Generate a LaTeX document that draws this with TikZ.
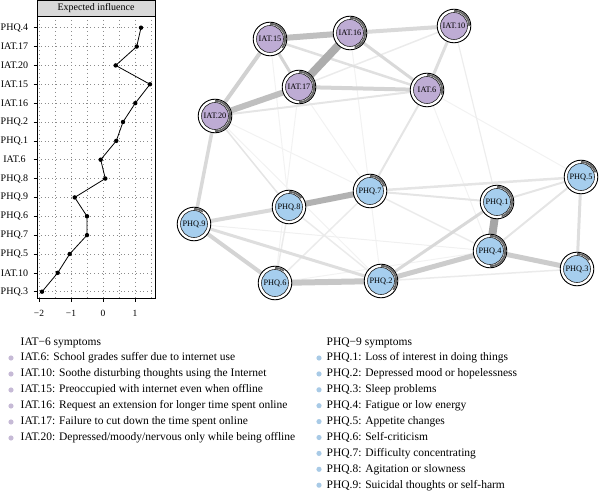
\documentclass[tikz,border=0pt]{standalone}
\usepackage{fontspec}
\setmainfont{Liberation Serif}
\usetikzlibrary{backgrounds,calc}
\definecolor{iatcol}{RGB}{190,172,212}
\definecolor{phqcol}{RGB}{166,206,238}
\definecolor{iatdot}{RGB}{198,186,214}
\definecolor{phqdot}{RGB}{168,202,230}
\begin{document}
\begin{tikzpicture}[x=1pt,y=-1pt,
  symnode/.style={circle, minimum size=27pt, inner sep=0pt, draw=black!85, line width=0.6pt, font=\fontsize{8.3}{9}\selectfont},
  iat/.style={symnode, fill=iatcol},
  phq/.style={symnode, fill=phqcol},
  eg/.style 2 args={line width=#1pt, draw=black!#2},
  axlab/.style={font=\fontsize{10}{11}\selectfont, inner sep=0pt},
  ticklab/.style={font=\fontsize{9.5}{10}\selectfont, inner sep=0pt},
  legtxt/.style={font=\fontsize{11.5}{13}\selectfont, anchor=west, inner sep=0pt},
  griddot/.style={black!45, line width=0.5pt, dash pattern=on 0.6pt off 3.2pt},
  datadot/.style={circle, fill=black, inner sep=0pt, minimum size=4.4pt}
]
\useasboundingbox (0,0) rectangle (600,492);

% ---------------- left panel ----------------
\fill[white] (37,16) rectangle (155,298);
\foreach \g in {39,55,71,87,103,119,135,151}
  \draw[griddot] (\g,16) -- (\g,298);
\foreach \k in {0,...,14}
  \draw[griddot] (37,27.7+\k*18.857) -- (155,27.7+\k*18.857);
\draw[line width=0.7pt] (37,16) rectangle (155,298);
\draw[line width=0.7pt, fill=black!15] (37,0.5) rectangle (155,16);
\node[font=\fontsize{10}{11}\selectfont, inner sep=0pt] (hdr) at (96,8.5) {Expected influence};
\foreach \lab [count=\k from 0] in {PHQ.4,IAT.17,IAT.20,IAT.15,IAT.16,PHQ.2,PHQ.1,IAT.6,PHQ.8,PHQ.9,PHQ.6,PHQ.7,PHQ.5,IAT.10,PHQ.3}{
  \node[axlab] (yl\k) at (14.5,27.7+\k*18.857) {\lab};
  \draw[line width=0.6pt] (33.5,27.7+\k*18.857) -- (37,27.7+\k*18.857);
}
\foreach \t/\x in {−2/39,−1/71,0/103,1/135}{
  \draw[line width=0.6pt] (\x,298) -- (\x,302);
  \node[ticklab] (xt\x) at (\x,313) {\t};
}
\foreach \v [count=\k from 0] in {141,136.7,115.7,150,135.3,123,116.3,100.7,105.3,74.7,87,87,69.7,57.7,42}
  \coordinate (d\k) at (\v,27.7+\k*18.857);
\draw[line width=0.8pt] (d0)--(d1)--(d2)--(d3)--(d4)--(d5)--(d6)--(d7)--(d8)--(d9)--(d10)--(d11)--(d12)--(d13)--(d14);
\foreach \k in {0,...,14} \node[datadot] (dd\k) at (d\k) {};

% ---------------- network nodes ----------------
\node[iat] (i15) at (270,39) {IAT.15};
\node[iat] (i16) at (350,33) {IAT.16};
\node[iat] (i10) at (454,26) {IAT.10};
\node[iat] (i17) at (299,87) {IAT.17};
\node[iat] (i6)  at (427,90) {IAT.6};
\node[iat] (i20) at (215,116) {IAT.20};
\node[phq] (p7) at (370,191) {PHQ.7};
\node[phq] (p8) at (289,207) {PHQ.8};
\node[phq] (p9) at (194,224) {PHQ.9};
\node[phq] (p1) at (497,202) {PHQ.1};
\node[phq] (p5) at (581,177) {PHQ.5};
\node[phq] (p4) at (490,251) {PHQ.4};
\node[phq] (p3) at (577,269) {PHQ.3};
\node[phq] (p6) at (275,283) {PHQ.6};
\node[phq] (p2) at (381,281) {PHQ.2};

\begin{scope}[on background layer]
% very faint edges
\draw[eg={1}{5}] (i15) -- (p8);
\draw[eg={1}{5}] (i17) -- (p7);
\draw[eg={1}{5}] (i20) -- (p7);
\draw[eg={1}{5}] (i6) -- (p4);
\draw[eg={1}{5}] (i6) -- (p5);
\draw[eg={1}{5}] (i16) -- (p2);
\draw[eg={1}{5}] (i17) -- (p6);
\draw[eg={1}{6}] (p9) -- (p4);
\draw[eg={1}{5}] (p6) -- (p4);
\draw[eg={1}{5}] (i20) -- (p2);
% IAT edges
\draw[eg={1.5}{8}] (i17) -- (i10);
\draw[eg={1.2}{7}] (i10) -- (p1);
\draw[eg={2}{10}] (i20) -- (i6);
\draw[eg={2}{10}] (i6) -- (p7);
\draw[eg={1.5}{10}] (i20) -- (p8);
\draw[eg={3}{13}] (i10) -- (i6);
\draw[eg={2.5}{12}] (i15) -- (i6);
\draw[eg={3}{15}] (i16) -- (i6);
\draw[eg={4}{17}] (i17) -- (i6);
\draw[eg={3}{17}] (i15) -- (i17);
\draw[eg={4}{15}] (i16) -- (i10);
\draw[eg={4}{18}] (i15) -- (i20);
\draw[eg={3.5}{15}] (i20) -- (p9);
\draw[eg={6}{25}] (i17) -- (i20);
\draw[eg={6}{25}] (i15) -- (i16);
\draw[eg={8}{32}] (i16) -- (i17);
% PHQ edges
\draw[eg={1.5}{8}] (p7) -- (p4);
\draw[eg={1.5}{8}] (p7) -- (p6);
\draw[eg={1.5}{8}] (p8) -- (p6);
\draw[eg={1.5}{8}] (p8) -- (p2);
\draw[eg={1.5}{8}] (p2) -- (p3);
\draw[eg={2}{10}] (p7) -- (p1);
\draw[eg={2.5}{10}] (p7) -- (p5);
\draw[eg={2}{10}] (p5) -- (p1);
\draw[eg={2}{10}] (p5) -- (p4);
\draw[eg={3}{13}] (p5) -- (p3);
\draw[eg={3}{15}] (p2) -- (p1);
\draw[eg={3}{13}] (p9) -- (p2);
\draw[eg={4}{17}] (p9) -- (p6);
\draw[eg={4}{15}] (p9) -- (p8);
\draw[eg={5}{20}] (p4) -- (p3);
\draw[eg={5}{20}] (p2) -- (p4);
\draw[eg={6}{22}] (p6) -- (p2);
\draw[eg={6}{30}] (p8) -- (p7);
\draw[eg={8}{35}] (p1) -- (p4);
% node rings with pies
\foreach \n/\f in {i15/0.35,i16/0.45,i10/0.25,i17/0.5,i6/0.3,i20/0.5,p7/0.2,p8/0.15,p9/0.1,p1/0.45,p5/0.2,p4/0.5,p3/0.15,p6/0.1,p2/0.35}{
  \draw[line width=0.9pt, fill=white] (\n.center) circle[radius=16.8pt];
  \draw[black!60, line width=1.8pt] ([shift={(90:15.2pt)}]\n.center) arc[start angle=90, delta angle=-360*\f, radius=15.2pt];
}
\end{scope}

% ---------------- legends ----------------
\node[legtxt] (ihdr) at (20.5,343) {IAT−6 symptoms};
\foreach \txt [count=\k from 0] in {IAT.6: School grades suffer due to internet use,IAT.10: Soothe disturbing thoughts using the Internet,IAT.15: Preoccupied with internet even when offline,IAT.16: Request an extension for longer time spent online,IAT.17: Failure to cut down the time spent online,IAT.20: Depressed/moody/nervous only while being offline}{
  \fill[iatdot] (11,358+\k*16) circle[radius=2.6pt];
  \node[legtxt] (il\k) at (20.5,358+\k*16) {\txt};
}
\node[legtxt] (phdr) at (326.5,343) {PHQ−9 symptoms};
\foreach \txt [count=\k from 0] in {PHQ.1: Loss of interest in doing things,PHQ.2: Depressed mood or hopelessness,PHQ.3: Sleep problems,PHQ.4: Fatigue or low energy,PHQ.5: Appetite changes,PHQ.6: Self-criticism,PHQ.7: Difficulty concentrating,PHQ.8: Agitation or slowness,PHQ.9: Suicidal thoughts or self-harm}{
  \fill[phqdot] (319,358+\k*15.9) circle[radius=2.6pt];
  \node[legtxt] (pl\k) at (326.5,358+\k*15.9) {\txt};
}
\end{tikzpicture}
\end{document}
